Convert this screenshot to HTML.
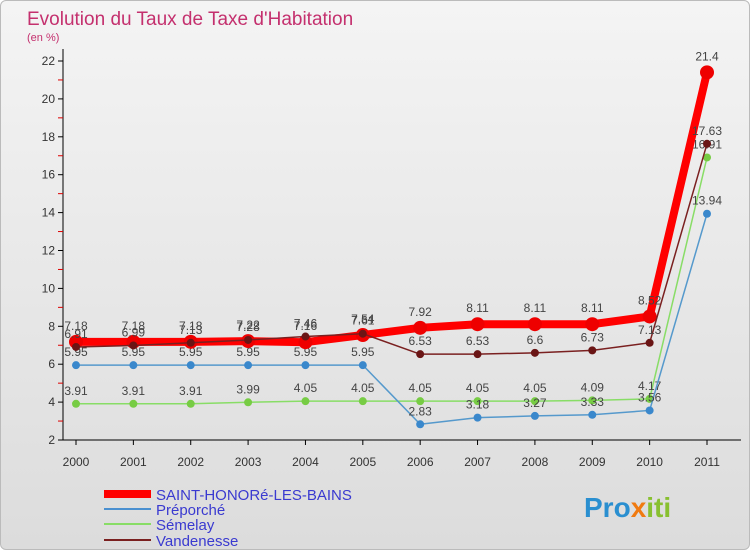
<!DOCTYPE html>
<html><head><meta charset="utf-8">
<style>
body{margin:0;width:750px;height:550px;overflow:hidden;font-family:"Liberation Sans",sans-serif;}
#wrap{position:absolute;left:0;top:0;width:748px;height:548px;border:1px solid #bbb;border-radius:6px;background:linear-gradient(#f4f4f4,#dcdcdc);}
</style></head><body>
<div id="wrap">
<svg id="chart" width="750" height="550" style="position:absolute;left:0;top:0">
<text x="26" y="24" font-size="19" fill="#c4306e">Evolution du Taux de Taxe d'Habitation</text>
<text x="26" y="40" font-size="11" fill="#c4306e">(en %)</text>
<g id="grid"></g><g id="series"></g>
<g>
<line x1="103" y1="493" x2="150" y2="493" stroke="#ff0000" stroke-width="8"/>
<text x="155" y="499" font-size="15" fill="#3a3ad0">SAINT-HONORé-LES-BAINS</text>
<line x1="103" y1="508" x2="150" y2="508" stroke="#4a90d0" stroke-width="2"/>
<text x="155" y="514" font-size="15" fill="#3a3ad0">Préporché</text>
<line x1="103" y1="523" x2="150" y2="523" stroke="#88dd66" stroke-width="2"/>
<text x="155" y="529" font-size="15" fill="#3a3ad0">Sémelay</text>
<line x1="103" y1="539" x2="150" y2="539" stroke="#7a2020" stroke-width="2"/>
<text x="155" y="545" font-size="15" fill="#3a3ad0">Vandenesse</text>
</g>
<text x="583" y="516" font-size="28" font-weight="bold"><tspan fill="#2a8fd0">Pro</tspan><tspan fill="#f07a10">x</tspan><tspan fill="#88c030">iti</tspan></text>
</svg>
</div>
<script>
const years=["2000","2001","2002","2003","2004","2005","2006","2007","2008","2009","2010","2011"];
const yTicks=[2,4,6,8,10,12,14,16,18,20,22];
const saint=[7.18,7.18,7.18,7.22,7.16,7.54,7.92,8.11,8.11,8.11,8.52,21.4];
const preporche=[5.95,5.95,5.95,5.95,5.95,5.95,2.83,3.18,3.27,3.33,3.56,13.94];
const semelay=[3.91,3.91,3.91,3.99,4.05,4.05,4.05,4.05,4.05,4.09,4.17,16.91];
const vandenesse=[6.91,6.99,7.13,7.28,7.46,7.61,6.53,6.53,6.6,6.73,7.13,17.63];
const NS="http://www.w3.org/2000/svg";
const X0=75,X1=706,Y0=439,Y1=60,VMIN=2,VMAX=22;
const xs=i=>X0+i*(X1-X0)/(years.length-1);
const ys=v=>Y0-(v-VMIN)*(Y0-Y1)/(VMAX-VMIN);
function mk(tag,attrs,parent){const e=document.createElementNS(NS,tag);for(const k in attrs)e.setAttribute(k,attrs[k]);parent.appendChild(e);return e;}
const grid=document.getElementById('grid');
let ax=mk('line',{x1:62,y1:48,x2:62,y2:Y0,stroke:'#000'},grid);


let bx=mk('line',{x1:62,y1:Y0,x2:740,y2:Y0,stroke:'#000'},grid);


for(let v=3;v<22;v+=2){mk('line',{x1:57,x2:62,y1:ys(v),y2:ys(v),stroke:'#d00'},grid);}
yTicks.forEach(v=>{mk('line',{x1:57,x2:62,y1:ys(v),y2:ys(v),stroke:'#000'},grid);
const t=mk('text',{x:54,y:ys(v)+4,'font-size':12,'text-anchor':'end',fill:'#333'},grid);t.textContent=v;

});
years.forEach((y,i)=>{mk('line',{x1:xs(i),x2:xs(i),y1:Y0,y2:Y0+5,stroke:'#000'},grid);
const t=mk('text',{x:xs(i),y:465,'font-size':12,'text-anchor':'middle',fill:'#333'},grid);t.textContent=y;

});
const sg=document.getElementById('series');
function draw(data,name,color,w,r,dot){
const g=mk('g',{},sg);


const l=mk('polyline',{points:data.map((v,i)=>xs(i)+','+ys(v)).join(' '),fill:'none',stroke:color,'stroke-width':w,'stroke-linejoin':'round'},g);


data.forEach((v,i)=>{const c=mk('circle',{cx:xs(i),cy:ys(v),r:r,fill:dot},g);


const t=mk('text',{x:xs(i),y:ys(v)-9-(r>4?3:0),'font-size':12,'text-anchor':'middle',fill:'#444'},g);t.textContent=v;

});
}
draw(semelay,'semelay','#88dd66',1.5,4,'#77cc44');
draw(preporche,'preporche','#5599cc',1.5,4,'#3a88cc');
draw(saint,'saint-honore','#ff0000',8,7,'#ee0000');
draw(vandenesse,'vandenesse','#7a2020',1.5,4,'#6a1515');
</script>
</body></html>
